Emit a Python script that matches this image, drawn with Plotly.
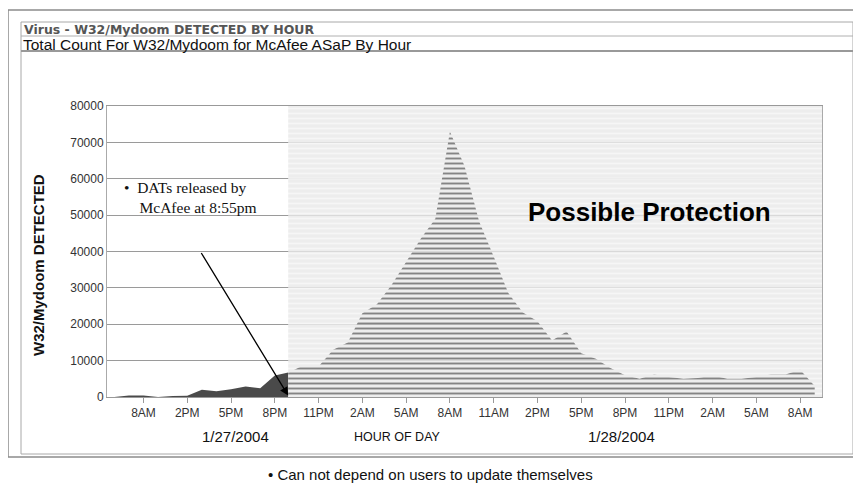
import numpy as np
import plotly.graph_objects as go

# hourly categories (the source chart skips a few morning hours on 1/27)
hours = ["6AM", "7AM", "8AM", "12PM", "1PM",
         "2PM", "3PM", "4PM", "5PM", "6PM", "7PM", "8PM", "9PM", "10PM", "11PM",
         "12AM", "1AM", "2AM", "3AM", "4AM", "5AM", "6AM", "7AM", "8AM", "9AM",
         "10AM", "11AM", "12PM", "1PM", "2PM", "3PM", "4PM", "5PM", "6PM", "7PM",
         "8PM", "9PM", "10PM", "11PM", "12AM", "1AM", "2AM", "3AM", "4AM", "5AM",
         "6AM", "7AM", "8AM", "9AM"]
detected = [0, 400, 400, 0, 300,
            350, 2000, 1600, 2100, 2900, 2400, 5900, 6800, 8800, 8400,
            13000, 15000, 23000, 25500, 30800, 37300, 43500, 49000, 73000, 63500,
            48300, 38600, 28600, 23200, 20800, 15500, 18000, 12000, 10500, 8000,
            6000, 5000, 6200, 5500, 5000, 5200, 5900, 5000, 5000, 5500,
            6200, 6200, 7500, 3000]
tick_every = 3
first_tick = 2
dat_release = 11 + 55 / 60   # 8:55pm on 1/27, in hour-category units
y_max = 80000

x = np.arange(len(hours))
y = np.array(detected, dtype=float)
x_end = len(hours) - 0.5

# split the area at the DAT release
y_cut = np.interp(dat_release, x, y)
pre = x < dat_release
x_before = list(x[pre]) + [dat_release]
y_before = list(y[pre]) + [y_cut]
x_after = [dat_release] + list(x[~pre])
y_after = [y_cut] + list(y[~pre])

tickvals = list(range(first_tick, len(hours), tick_every))
ticktext = [hours[i] for i in tickvals]

# page has an 8px body margin, so the figure is drawn 8px smaller
OFF = 8
W_PAGE, H_PAGE = 861, 491
L, R, T, B = 107, 822, 106, 397   # plot box in page pixels
def px(v):
    return (v - L) / (R - L)
def py(v):
    return (B - v) / (B - T)

fig = go.Figure()

fig.add_trace(go.Scatter(
    x=x_before, y=y_before, mode='lines', fill='tozeroy',
    line=dict(width=0), fillcolor='#4a4a4a', hoverinfo='skip'))

# "possible protection" backdrop
fig.add_trace(go.Scatter(
    x=[dat_release, x_end], y=[y_max, y_max], mode='lines', fill='tozeroy',
    line=dict(width=0), fillcolor='rgba(232,232,232,0.8)',
    fillpattern=dict(shape='-', size=5, solidity=0.3, fgcolor='white',
                     bgcolor='rgba(232,232,232,0.8)'),
    hoverinfo='skip'))

fig.add_trace(go.Scatter(
    x=x_after, y=y_after, mode='lines', fill='tozeroy',
    line=dict(width=0), fillcolor='rgba(0,0,0,0)',
    fillpattern=dict(shape='-', size=5, solidity=0.38, fgcolor='#111111',
                     bgcolor='rgba(0,0,0,0)'),
    hoverinfo='skip'))

frame = dict(type='rect', xref='paper', yref='paper')
fig.add_shape(**frame, x0=px(8), x1=px(857), y0=py(457), y1=py(10),
              line=dict(color='#8c8c8c', width=1.5))
fig.add_shape(**frame, x0=px(21), x1=px(853), y0=py(454), y1=py(22),
              line=dict(color='#a8a8a8', width=1))
fig.add_shape(type='line', xref='paper', yref='paper', x0=px(21), x1=px(853),
              y0=py(36), y1=py(36), line=dict(color='#b0b0b0', width=1))
fig.add_shape(type='line', xref='paper', yref='paper', x0=px(21), x1=px(853),
              y0=py(51), y1=py(51), line=dict(color='#999999', width=2))

def note(text, xp, yp, size, color='#111', family='Liberation Sans, Arial',
         xanchor='center', **kw):
    fig.add_annotation(text=text, x=px(xp), y=py(yp), xref='paper', yref='paper',
                       showarrow=False, xanchor=xanchor, yanchor='middle',
                       font=dict(size=size, color=color, family=family), **kw)

note("<b>Virus - W32/Mydoom DETECTED BY HOUR</b>", 22, 29, 12.5, color='#555',
     family='DejaVu Sans', xanchor='left')
note("Total Count For W32/Mydoom for McAfee ASaP By Hour", 21, 44, 15.5,
     family='Liberation Sans, Arial', xanchor='left')
note("<b>W32/Mydoom DETECTED</b>", 38, 265, 15, textangle=-90)
note("1/27/2004", 235, 436, 15)
note("1/28/2004", 621, 436, 15)
note("HOUR OF DAY", 397, 437, 12.5)
note("• Can not depend on users to update themselves", 430, 474, 15)
note("<b>Possible Protection</b>", 649, 212, 26, color='#000')

nb = "\u00a0"
note("•" + nb * 2 + "DATs released by<br>" + nb * 4 + "McAfee at 8:55pm", 122, 197, 15.5,
     family='Liberation Serif, Times New Roman', xanchor='left', align='left')
fig.add_annotation(x=dat_release, y=400, ax=5.9, ay=40000, axref='x', ayref='y',
                   text='', showarrow=True, arrowhead=2, arrowsize=1.3,
                   arrowwidth=1.3, arrowcolor='#000')

fig.update_layout(
    width=W_PAGE - OFF, height=H_PAGE - OFF,
    margin=dict(l=L - OFF, r=W_PAGE - R, t=T - OFF, b=H_PAGE - B),
    paper_bgcolor='white', plot_bgcolor='white',
    showlegend=False,
    font=dict(family='Liberation Sans, Arial', color='#333'),
)
fig.update_xaxes(range=[-0.5, x_end], tickvals=tickvals, ticktext=ticktext,
                 ticks='outside', ticklen=5, tickcolor='#999', showgrid=False,
                 showline=True, linecolor='#999', linewidth=1, mirror=True,
                 zeroline=False, tickfont=dict(size=12, color='#333'))
fig.update_yaxes(range=[0, y_max], dtick=10000, tickformat='d',
                 showgrid=True, gridcolor='#9a9a9a', gridwidth=1,
                 showline=True, linecolor='#aaa', linewidth=1, mirror=True,
                 zeroline=False, ticks='', tickfont=dict(size=12, color='#333'))

fig.write_html("out.html")
